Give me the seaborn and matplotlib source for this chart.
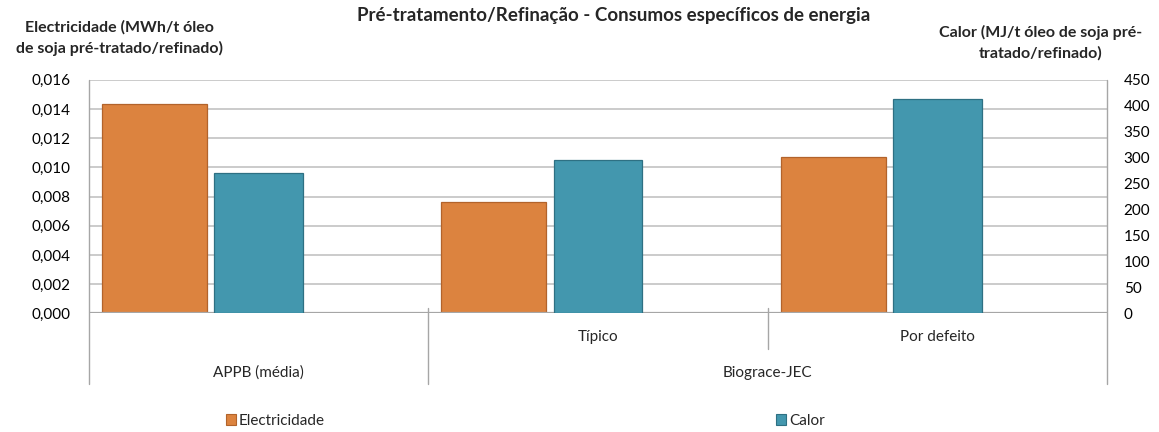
import matplotlib
matplotlib.use("Agg")
import matplotlib.pyplot as plt
import matplotlib.transforms as mtransforms
from matplotlib.lines import Line2D
from matplotlib.patches import Patch
from matplotlib.ticker import FuncFormatter, MultipleLocator
import seaborn as sns
import numpy as np

# data
subcategories = ["", "Típico", "Por defeito"]
groups = ["APPB (média)", "Biograce-JEC"]
group_index = [0, 1, 1]
electricidade = [0.01432, 0.00762, 0.01068]   # MWh/t, left axis
calor = [270.3, 295.3, 413.4]                 # MJ/t, right axis

title = "Pré-tratamento/Refinação - Consumos específicos de energia"
ylabel_left = "Electricidade (MWh/t óleo\nde soja pré-tratado/refinado)"
ylabel_right = "Calor (MJ/t óleo de soja pré-\ntratado/refinado)"

orange = "#DC833F"
orange_edge = "#B2632B"
blue = "#4397AE"
blue_edge = "#2E7083"
grid_col = "#BDBDBD"
axis_col = "#A6A6A6"

sns.set_style("white")
plt.rcParams["font.family"] = ["Lato", "DejaVu Sans"]
plt.rcParams["font.size"] = 10.5

W, H = 1159, 432
fig = plt.figure(figsize=(W / 100, H / 100), dpi=100)
ax = fig.add_axes([89 / W, (H - 313.3) / H, 1018 / W, 233.6 / H])
ax2 = ax.twinx()

x = np.arange(len(subcategories))
sns.barplot(x=x - 0.307, y=electricidade, native_scale=True, width=0.309,
            color=orange, edgecolor=orange_edge, linewidth=0.9,
            saturation=1, errorbar=None, ax=ax, zorder=3)
sns.barplot(x=x + 0.0, y=calor, native_scale=True, width=0.262,
            color=blue, edgecolor=blue_edge, linewidth=0.9,
            saturation=1, errorbar=None, ax=ax2, zorder=3)

for a in (ax, ax2):
    a.set_xlim(-0.5, 2.5)
    a.set_xticks([])
    a.set_xlabel("")
    a.set_ylabel("")
    for s in a.spines.values():
        s.set_visible(False)

ax.set_ylim(0, 0.016)
ax.yaxis.set_major_locator(MultipleLocator(0.002))
ax.yaxis.set_major_formatter(FuncFormatter(lambda v, p: f"{v:.3f}".replace(".", ",")))
ax2.set_ylim(0, 450)
ax2.yaxis.set_major_locator(MultipleLocator(50))
ax.tick_params(axis="y", length=0, pad=13, labelsize=11, colors="black")
ax2.tick_params(axis="y", length=0, pad=12, labelsize=11, colors="black")
ax.yaxis.grid(True, color=grid_col, linewidth=1.1, zorder=0)
ax.set_axisbelow(True)
ax.axhline(0, color=axis_col, linewidth=1.6, zorder=4)

# multi level category axis below the plot
tr = mtransforms.blended_transform_factory(ax.transData, fig.transFigure)
y_top = 1 - 308 / H
y_long = 1 - 384 / H
y_short = 1 - 349 / H
for b in [-0.5, 0.5, 2.5]:
    ax.add_line(Line2D([b, b], [y_top if b == 0.5 else 1 - 80 / H, y_long],
                       transform=tr, color=axis_col, linewidth=1.0, clip_on=False))
for i in range(1, len(subcategories)):
    if group_index[i] == group_index[i - 1]:
        ax.add_line(Line2D([i - 0.5, i - 0.5], [y_top, y_short], transform=tr,
                           color=axis_col, linewidth=1.0, clip_on=False))

for i, lab in enumerate(subcategories):
    if lab:
        ax.text(i, 1 - 337 / H, lab, transform=tr, ha="center", va="center", fontsize=11)
for g, lab in enumerate(groups):
    members = [i for i, gi in enumerate(group_index) if gi == g]
    ax.text((members[0] + members[-1]) / 2, 1 - 373 / H, lab, transform=tr,
            ha="center", va="center", fontsize=11)

fig.text(614 / W, 1 - 15 / H, title, ha="center", va="center", fontsize=13.5, fontweight="bold")
fig.text(119 / W, 1 - 38 / H, ylabel_left, ha="center", va="center", fontsize=11.5,
         fontweight="bold", linespacing=1.5)
fig.text(1041 / W, 1 - 43 / H, ylabel_right, ha="center", va="center", fontsize=11.5,
         fontweight="bold", linespacing=1.5)

for handle_col, edge, lab, xpos in [(orange, orange_edge, "Electricidade", 226),
                                    (blue, blue_edge, "Calor", 776)]:
    fig.legend(handles=[Patch(facecolor=handle_col, edgecolor=edge, linewidth=0.8)],
               labels=[lab], loc="center left", bbox_to_anchor=(xpos / W, 1 - 421 / H),
               frameon=False, handlelength=0.65, handleheight=0.75, handletextpad=0.2,
               borderpad=0, borderaxespad=0, fontsize=11)

fig.savefig("out.png", dpi=100)
